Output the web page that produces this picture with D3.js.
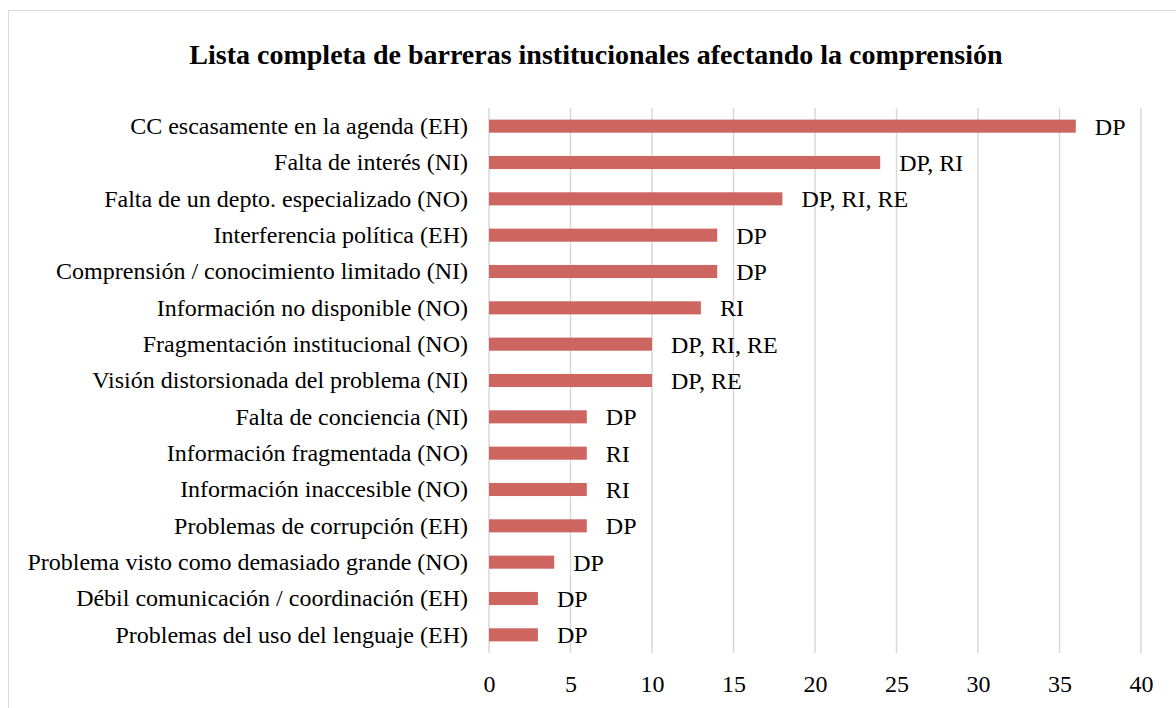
<!DOCTYPE html>
<html><head><meta charset="utf-8">
<script src="https://cdn.jsdelivr.net/npm/d3@7"></script>
<style>body{margin:0;background:#fff}svg{display:block}text{font-family:"Liberation Serif","Times New Roman",serif}</style>
</head><body>
<svg id="c" width="1176" height="708"></svg>
<script>
const categories = [
  "CC escasamente en la agenda (EH)",
  "Falta de interés (NI)",
  "Falta de un depto. especializado (NO)",
  "Interferencia política (EH)",
  "Comprensión / conocimiento limitado (NI)",
  "Información no disponible (NO)",
  "Fragmentación institucional (NO)",
  "Visión distorsionada del problema (NI)",
  "Falta de conciencia (NI)",
  "Información fragmentada (NO)",
  "Información inaccesible (NO)",
  "Problemas de corrupción (EH)",
  "Problema visto como demasiado grande (NO)",
  "Débil comunicación / coordinación (EH)",
  "Problemas del uso del lenguaje (EH)"
];
const values = [36, 24, 18, 14, 14, 13, 10, 10, 6, 6, 6, 6, 4, 3, 3];
const annotations = ["DP", "DP, RI", "DP, RI, RE", "DP", "DP", "RI", "DP, RI, RE", "DP, RE", "DP", "RI", "RI", "DP", "DP", "DP", "DP"];
const tickValues = [0, 5, 10, 15, 20, 25, 30, 35, 40];
const title = "Lista completa de barreras institucionales afectando la comprensión";

const svg = d3.select("#c");
svg.append("rect").attr("x", 8.5).attr("y", 10.5).attr("width", 1180).attr("height", 720)
  .attr("fill", "#fff").attr("stroke", "#d9d9d9");

const x = d3.scaleLinear().domain([0, 40]).range([489, 1141]);
const y = d3.scaleBand().domain(categories).range([108, 653]).paddingInner(0.64).paddingOuter(0.32);

svg.append("text").attr("x", 596).attr("y", 64).attr("text-anchor", "middle")
  .attr("font-size", 28).attr("font-weight", "bold").attr("fill", "#000").text(title);

// gridlines
svg.append("g").selectAll("line").data(tickValues).join("line")
  .attr("x1", d => x(d)).attr("x2", d => x(d)).attr("y1", 108).attr("y2", 653)
  .attr("stroke", "#d9d9d9").attr("stroke-width", 1.5);

// axis tick labels
const ax = svg.append("g").attr("transform", "translate(0,653)")
  .call(d3.axisBottom(x).tickValues(tickValues).tickSize(0));
ax.select(".domain").remove();
ax.selectAll("text").attr("y", 39).attr("dy", 0).attr("font-size", 24).attr("fill", "#000")
  .attr("font-family", "Liberation Serif, serif");

// category labels
const ay = svg.append("g").attr("transform", "translate(489,0)")
  .call(d3.axisLeft(y).tickSize(0).tickPadding(21));
ay.select(".domain").remove();
ay.selectAll("text").attr("font-size", 24).attr("fill", "#000").attr("font-family", "Liberation Serif, serif");

// bars
svg.append("g").selectAll("rect").data(values).join("rect")
  .attr("x", x(0)).attr("y", (d, i) => y(categories[i]))
  .attr("width", d => x(d) - x(0)).attr("height", y.bandwidth())
  .attr("fill", "#cd6660");

// annotations
svg.append("g").selectAll("text").data(annotations).join("text")
  .attr("x", (d, i) => x(values[i]) + 19)
  .attr("y", (d, i) => y(categories[i]) + y.bandwidth() / 2)
  .attr("dy", "0.35em").attr("font-size", 24).attr("fill", "#000").text(d => d);
</script>
</body></html>
